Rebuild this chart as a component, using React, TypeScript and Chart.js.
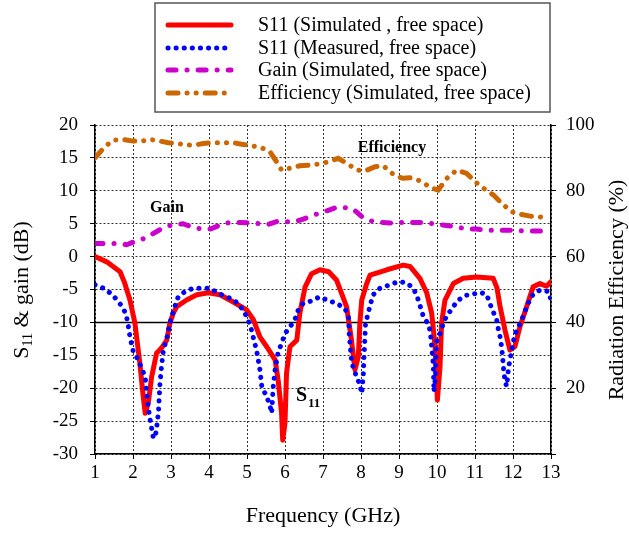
import React, { useEffect, useRef } from "react";
import { Chart, registerables } from "chart.js";

Chart.register(...registerables);

// ---------- DATA ----------
const s11SimFreq = [1.0, 1.31, 1.66, 1.78, 1.92, 2.05, 2.18, 2.27, 2.32, 2.4, 2.49, 2.62, 2.75, 2.89, 2.97, 3.06, 3.15, 3.41, 3.68, 3.98, 4.29, 4.64, 4.99, 5.17, 5.34, 5.52, 5.74, 5.82, 5.91, 5.94, 6.0, 6.04, 6.13, 6.31, 6.39, 6.53, 6.7, 6.92, 7.15, 7.36, 7.62, 7.75, 7.84, 7.93, 7.97, 8.02, 8.15, 8.24, 8.68, 9.11, 9.29, 9.55, 9.73, 9.86, 9.95, 10.01, 10.08, 10.12, 10.21, 10.43, 10.69, 11.04, 11.48, 11.58, 11.66, 11.79, 11.92, 12.05, 12.18, 12.36, 12.53, 12.71, 12.88, 13.0];
const s11SimDb = [0.0, -0.8, -2.3, -4.0, -6.6, -10.1, -16.2, -21.3, -23.8, -22.3, -18.3, -14.7, -13.9, -12.7, -10.1, -8.6, -7.6, -6.6, -5.8, -5.5, -5.8, -6.9, -8.1, -9.6, -12.2, -13.7, -15.7, -18.8, -23.8, -27.9, -25.3, -17.7, -13.7, -12.7, -8.6, -4.6, -2.6, -2.0, -2.3, -3.6, -7.6, -12.7, -17.2, -15.2, -10.1, -6.6, -4.1, -2.8, -2.0, -1.3, -1.5, -3.3, -5.5, -8.6, -13.7, -21.8, -16.7, -10.1, -6.6, -4.1, -3.3, -3.1, -3.3, -4.8, -7.6, -11.2, -14.2, -13.7, -10.7, -7.6, -4.6, -4.1, -4.5, -3.8];

const s11MeasFreq = [1.0, 1.22, 1.44, 1.61, 1.75, 1.83, 1.88, 1.92, 2.01, 2.14, 2.23, 2.32, 2.36, 2.4, 2.45, 2.49, 2.53, 2.58, 2.62, 2.67, 2.71, 2.75, 2.8, 2.89, 2.97, 3.1, 3.19, 3.37, 3.59, 3.8, 4.03, 4.24, 4.47, 4.68, 4.9, 5.03, 5.12, 5.17, 5.25, 5.34, 5.39, 5.52, 5.6, 5.65, 5.69, 5.74, 5.82, 5.91, 6.0, 6.13, 6.26, 6.35, 6.48, 6.66, 6.92, 7.14, 7.36, 7.58, 7.67, 7.69, 7.71, 7.75, 7.8, 7.89, 7.97, 8.02, 8.06, 8.08, 8.1, 8.12, 8.19, 8.24, 8.32, 8.5, 8.76, 8.98, 9.2, 9.38, 9.51, 9.64, 9.73, 9.82, 9.86, 9.9, 9.91, 9.92, 9.96, 9.97, 9.99, 10.08, 10.17, 10.26, 10.39, 10.52, 10.74, 10.96, 11.13, 11.31, 11.39, 11.48, 11.57, 11.61, 11.66, 11.7, 11.72, 11.74, 11.76, 11.79, 11.83, 11.86, 11.88, 11.92, 12.0, 12.05, 12.14, 12.23, 12.31, 12.4, 12.53, 12.71, 12.93, 13.0, 13.0];
const s11MeasDb = [-4.3, -4.8, -5.7, -6.8, -7.9, -9.1, -10.7, -12.2, -14.5, -15.7, -17.0, -18.3, -20.8, -22.8, -24.8, -26.1, -27.4, -27.6, -26.1, -23.6, -19.3, -16.7, -14.2, -12.4, -10.1, -7.6, -6.1, -5.3, -4.8, -4.8, -4.8, -5.6, -6.1, -6.7, -8.1, -9.6, -11.2, -12.4, -14.2, -17.2, -19.8, -21.3, -22.6, -23.8, -19.8, -17.2, -14.5, -13.2, -11.7, -10.7, -9.6, -8.1, -7.1, -6.8, -6.1, -6.7, -7.1, -7.9, -9.1, -11.7, -13.2, -15.7, -17.0, -18.3, -19.5, -20.8, -18.0, -15.2, -12.7, -10.1, -8.6, -7.4, -5.8, -4.8, -4.3, -3.8, -4.0, -4.8, -6.6, -9.1, -9.9, -11.2, -13.7, -16.2, -18.3, -20.5, -18.3, -15.7, -12.9, -11.7, -10.1, -8.9, -8.0, -6.8, -5.9, -5.7, -5.4, -5.8, -7.1, -8.4, -9.6, -10.9, -12.2, -13.7, -14.9, -16.2, -17.7, -18.8, -19.7, -18.3, -17.0, -15.7, -13.2, -11.8, -10.7, -9.6, -8.4, -7.1, -5.7, -5.1, -5.3, -6.6, -7.4];

const gainFreq = [1.0, 1.22, 1.57, 1.83, 2.1, 2.32, 2.53, 2.8, 3.02, 3.32, 3.59, 3.8, 4.04, 4.29, 4.55, 4.82, 5.08, 5.34, 5.56, 5.82, 6.04, 6.26, 6.48, 6.75, 7.02, 7.32, 7.53, 7.8, 8.02, 8.28, 8.54, 8.8, 9.05, 9.29, 9.55, 9.77, 10.03, 10.3, 10.52, 10.78, 11.04, 11.3, 11.57, 11.83, 12.05, 12.27, 12.53, 12.8];
const gainDb = [2.0, 2.0, 2.0, 1.8, 2.4, 2.8, 3.5, 4.4, 4.8, 5.0, 4.4, 4.2, 4.2, 4.8, 5.2, 5.2, 5.1, 5.0, 4.9, 5.4, 5.3, 5.3, 5.7, 6.3, 6.8, 7.4, 7.5, 7.2, 6.1, 5.4, 5.2, 5.1, 5.2, 5.2, 5.2, 5.1, 4.9, 4.7, 4.5, 4.2, 4.2, 4.0, 4.0, 4.0, 4.0, 3.9, 3.9, 3.9];

const effFreq = [1.0, 1.26, 1.48, 1.75, 2.0, 2.23, 2.45, 2.67, 2.93, 3.15, 3.41, 3.63, 3.85, 4.11, 4.38, 4.64, 4.9, 5.12, 5.36, 5.6, 5.78, 5.91, 6.18, 6.39, 6.66, 6.92, 7.14, 7.4, 7.62, 7.89, 8.1, 8.37, 8.59, 8.76, 8.94, 9.11, 9.33, 9.6, 9.82, 10.03, 10.26, 10.52, 10.78, 11.0, 11.22, 11.49, 11.7, 11.97, 12.18, 12.45, 12.7, 12.93];
const effPct = [90.0, 93.4, 95.4, 95.6, 95.1, 95.1, 95.6, 95.2, 94.6, 94.4, 93.9, 93.9, 94.4, 94.6, 94.6, 94.6, 94.1, 93.7, 93.2, 91.9, 88.8, 86.3, 87.0, 87.6, 87.8, 88.2, 88.8, 89.9, 88.4, 86.3, 86.0, 87.3, 87.6, 85.8, 84.3, 83.8, 84.0, 82.8, 81.0, 80.2, 83.8, 86.3, 85.3, 82.8, 80.8, 78.7, 76.2, 73.6, 72.9, 72.3, 72.1, 71.6];

const legendLabels = [
  "S11 (Simulated , free space)",
  "S11 (Measured, free space)",
  "Gain (Simulated, free space)",
  "Efficiency (Simulated, free space)",
];
const xTitle = "Frequency (GHz)";
const yRightTitle = "Radiation Efficiency (%)";

// ---------- STYLES ----------
const SERIF = "'Liberation Serif', 'Times New Roman', serif";
const RED = "#ff0000";
const BLUE = "#0000ff";
const MAGENTA = "#cc00cc";
const ORANGE = "#cc6600";
const DASH_MEAS = [0.1, 8];
const DASH_GAIN = [8, 11, 0.1, 11];
const DASH_EFF = [10, 9, 0.1, 9, 0.1, 9];

const pts = (xs: number[], ys: number[]) => xs.map((x, i) => ({ x, y: ys[i] }));

const overlayPlugin = {
  id: "overlay",
  beforeDatasetsDraw(chart: any) {
    const { ctx, chartArea, scales } = chart;
    const y = scales.y.getPixelForValue(-10);
    ctx.save();
    ctx.strokeStyle = "#000";
    ctx.lineWidth = 1.5;
    ctx.beginPath();
    ctx.moveTo(chartArea.left, y);
    ctx.lineTo(chartArea.right, y);
    ctx.stroke();
    ctx.restore();
  },
  afterDraw(chart: any) {
    const { ctx } = chart;
    ctx.save();
    // legend box
    const bx = 155, by = 3, bw = 395, bh = 109;
    ctx.fillStyle = "#fff";
    ctx.fillRect(bx, by, bw, bh);
    ctx.strokeStyle = "#555";
    ctx.lineWidth = 1.5;
    ctx.strokeRect(bx, by, bw, bh);
    const rows = [25, 48, 70, 93];
    const styles = [
      { c: RED, d: [] as number[], w: 5 },
      { c: BLUE, d: DASH_MEAS, w: 5 },
      { c: MAGENTA, d: DASH_GAIN, w: 5 },
      { c: ORANGE, d: DASH_EFF, w: 5 },
    ];
    rows.forEach((ry, i) => {
      const s = styles[i];
      ctx.strokeStyle = s.c;
      ctx.lineWidth = s.w;
      ctx.lineCap = "round";
      ctx.setLineDash(s.d);
      ctx.beginPath();
      ctx.moveTo(168, ry);
      ctx.lineTo(231, ry);
      ctx.stroke();
      ctx.setLineDash([]);
      ctx.fillStyle = "#000";
      ctx.font = `20px ${SERIF}`;
      ctx.textAlign = "left";
      ctx.textBaseline = "middle";
      ctx.fillText(legendLabels[i], 258, ry + 1);
    });

    // x title
    ctx.fillStyle = "#000";
    ctx.font = `22px ${SERIF}`;
    ctx.textAlign = "center";
    ctx.textBaseline = "middle";
    ctx.fillText(xTitle, 323, 516);

    // right title
    ctx.save();
    ctx.translate(617, 290);
    ctx.rotate(-Math.PI / 2);
    ctx.fillText(yRightTitle, 0, 0);
    ctx.restore();

    // left title with subscript
    ctx.save();
    ctx.translate(22, 290);
    ctx.rotate(-Math.PI / 2);
    ctx.textAlign = "left";
    ctx.textBaseline = "middle";
    const big = `22px ${SERIF}`;
    const small = `14px ${SERIF}`;
    ctx.font = big;
    const wS = ctx.measureText("S").width;
    const wRest = ctx.measureText(" & gain (dB)").width;
    ctx.font = small;
    const w11 = ctx.measureText("11").width;
    const x0 = -(wS + w11 + wRest) / 2;
    ctx.font = big;
    ctx.fillText("S", x0, 0);
    ctx.font = small;
    ctx.fillText("11", x0 + wS, 6);
    ctx.font = big;
    ctx.fillText(" & gain (dB)", x0 + wS + w11, 0);
    ctx.restore();

    // annotations
    ctx.textAlign = "center";
    ctx.textBaseline = "middle";
    ctx.font = `bold 16px ${SERIF}`;
    ctx.fillText("Gain", 167, 208);
    ctx.fillText("Efficiency", 392, 148);
    ctx.textAlign = "left";
    ctx.font = `bold 20px ${SERIF}`;
    ctx.fillText("S", 296, 396);
    ctx.font = `bold 13px ${SERIF}`;
    ctx.fillText("11", 308, 404);
    ctx.restore();
  },
};

export default function App() {
  const ref = useRef<HTMLCanvasElement | null>(null);
  useEffect(() => {
    if (!ref.current) return;
    Chart.defaults.font.family = SERIF;
    const tickFont = { family: SERIF, size: 19 };
    const chart = new Chart(ref.current, {
      type: "line",
      data: {
        datasets: [
          {
            label: legendLabels[1],
            data: pts(s11MeasFreq, s11MeasDb),
            yAxisID: "y",
            borderColor: BLUE,
            borderWidth: 5,
            borderDash: DASH_MEAS,
            borderCapStyle: "round",
            pointRadius: 0,
            tension: 0,
            fill: false,
          },
          {
            label: legendLabels[0],
            data: pts(s11SimFreq, s11SimDb),
            yAxisID: "y",
            borderColor: RED,
            borderWidth: 5,
            borderJoinStyle: "round",
            borderCapStyle: "round",
            pointRadius: 0,
            tension: 0,
            fill: false,
          },
          {
            label: legendLabels[2],
            data: pts(gainFreq, gainDb),
            yAxisID: "y",
            borderColor: MAGENTA,
            borderWidth: 5,
            borderDash: DASH_GAIN,
            borderCapStyle: "round",
            pointRadius: 0,
            tension: 0,
            fill: false,
          },
          {
            label: legendLabels[3],
            data: pts(effFreq, effPct),
            yAxisID: "y2",
            borderColor: ORANGE,
            borderWidth: 5,
            borderDash: DASH_EFF,
            borderCapStyle: "round",
            pointRadius: 0,
            tension: 0,
            fill: false,
          },
        ],
      },
      options: {
        animation: false,
        responsive: false,
        maintainAspectRatio: false,
        layout: { padding: { top: 125, left: 0, right: 0, bottom: 0 } },
        plugins: { legend: { display: false }, tooltip: { enabled: false } },
        scales: {
          x: {
            type: "linear",
            min: 1,
            max: 13,
            ticks: { stepSize: 1, color: "#000", font: tickFont, padding: 3 },
            grid: { color: "#333", lineWidth: 1, tickLength: 5, tickColor: "#000" },
            border: { display: true, color: "#000", width: 1.5, dash: [2, 2] },
            afterFit: (s: any) => { s.height = 80; },
          },
          y: {
            position: "left",
            min: -30,
            max: 20,
            ticks: { stepSize: 5, color: "#000", font: tickFont, padding: 12 },
            grid: { color: "#333", lineWidth: 1, tickLength: 5, tickColor: "#000" },
            border: { display: true, color: "#000", width: 1.5, dash: [2, 2] },
            afterFit: (s: any) => { s.width = 95; },
          },
          y2: {
            position: "right",
            min: 0,
            max: 100,
            ticks: {
              stepSize: 20,
              color: "#000",
              font: tickFont,
              padding: 10,
              callback: (v: any) => (v === 0 ? "" : String(v)),
            },
            grid: { drawOnChartArea: false, tickLength: 5, tickColor: "#000" },
            border: { display: true, color: "#000", width: 1.5 },
            afterFit: (s: any) => { s.width = 78; },
          },
        },
      } as any,
      plugins: [overlayPlugin],
    });
    return () => chart.destroy();
  }, []);
  return (
    <div style={{ position: "fixed", left: 0, top: 0, width: 629, height: 534, background: "#fff" }}>
      <canvas ref={ref} width={629} height={534} style={{ width: 629, height: 534 }} />
    </div>
  );
}
